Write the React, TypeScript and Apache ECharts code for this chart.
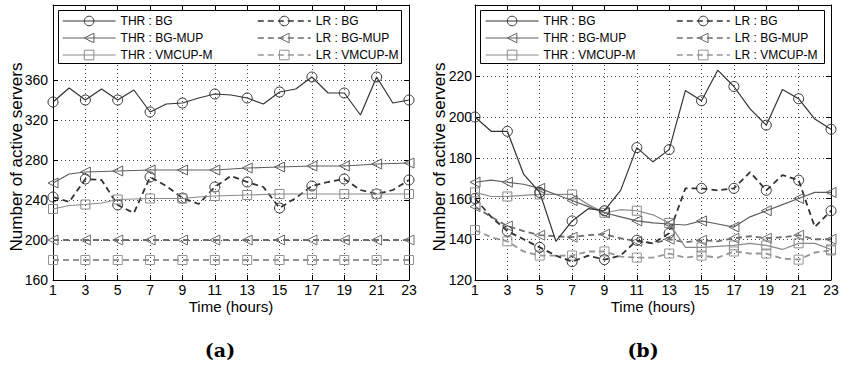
import React, { useEffect, useRef } from "react";
import * as echarts from "echarts";

const hours = [1, 2, 3, 4, 5, 6, 7, 8, 9, 10, 11, 12, 13, 14, 15, 16, 17, 18, 19, 20, 21, 22, 23];

// Panel (a)
const aThrBg = [338, 352, 340, 351, 340, 350, 328, 336, 337, 342, 346, 345, 342, 336, 348, 351, 363, 347, 347, 325, 363, 337, 340];
const aThrBgMup = [257, 266, 268, 268.5, 269, 269.5, 270, 270, 270, 270, 270, 271, 272, 272.5, 273, 273.5, 274, 274, 274, 275, 276, 276.5, 277];
const aThrVm = [231, 234.5, 235.5, 237, 240.5, 241, 241.5, 241.5, 241.5, 243, 244, 244.5, 245, 245.5, 246, 246, 246, 246, 246, 246, 246, 246, 246];
const aLrBg = [243, 238, 261, 260, 235, 227, 263, 254, 242, 236, 253, 264, 258, 253, 232, 242, 254, 258, 261, 250, 246, 250, 260];
const aLrBgMup = [200, 200, 200, 200, 200, 200, 200, 200, 200, 200, 200, 200, 200, 200, 200, 200, 200, 200, 200, 200, 200, 200, 200];
const aLrVm = [180, 180, 180, 180, 180, 180, 180, 180, 180, 180, 180, 180, 180, 180, 180, 180, 180, 180, 180, 180, 180, 180, 180];

// Panel (b)
const bThrBg = [200, 193, 193, 172, 163, 139, 149, 155, 154, 164, 185, 178, 184, 213, 208, 223, 215, 204, 196, 213.5, 209, 199, 194];
const bThrBgMup = [168, 169, 168, 167, 165, 162, 159, 156, 153, 151, 149, 148, 147.5, 147, 149, 147.5, 146, 151, 154, 157, 160, 163, 163];
const bThrVm = [163, 161, 161, 161.5, 162, 162, 162, 157, 153, 154.5, 154, 152, 148, 136, 136, 136.5, 137, 138, 137, 135, 138, 138, 135];
const bLrBg = [160, 151, 144, 140, 136, 132, 129, 132, 130, 132, 139.5, 138, 143, 165, 165, 164, 165, 173, 164, 171.5, 169, 146, 154];
const bLrBgMup = [156, 151, 146.5, 144, 142, 141.5, 141, 142, 142.5, 140.5, 139, 138, 140, 138.5, 139.5, 139, 140.5, 141.5, 140.5, 141, 142, 140, 140];
const bLrVm = [144.5, 141, 139, 134, 132, 132, 132, 134, 134, 131.5, 131, 131, 133, 131, 132, 131, 134, 133, 133, 130.5, 130, 133.5, 134.5];

const seriesNames = ["THR : BG", "THR : BG-MUP", "THR : VMCUP-M", "LR : BG", "LR : BG-MUP", "LR : VMCUP-M"];
const aTicks = [160, 200, 240, 280, 320, 360];
const bTicks = [120, 140, 160, 180, 200, 220];
const xTicks = [1, 3, 5, 7, 9, 11, 13, 15, 17, 19, 21, 23];

const SANS = "Liberation Sans, Arial, sans-serif";

const styles = [
  { color: "#333333", dashed: false, symbol: "circle", rotate: 0, size: 10, width: 1.2 },
  { color: "#5e5e5e", dashed: false, symbol: "triangle", rotate: 90, size: 10, width: 1.2 },
  { color: "#8a8a8a", dashed: false, symbol: "rect", rotate: 0, size: 9, width: 1.2 },
  { color: "#333333", dashed: true, symbol: "circle", rotate: 0, size: 10, width: 1.8 },
  { color: "#6e6e6e", dashed: true, symbol: "triangle", rotate: 90, size: 10, width: 1.8 },
  { color: "#959595", dashed: true, symbol: "rect", rotate: 0, size: 9, width: 1.8 },
];

function makeSeries(idx: number, values: number[], axisIndex: number) {
  const s = styles[idx];
  return {
    name: seriesNames[idx],
    type: "line",
    xAxisIndex: axisIndex,
    yAxisIndex: axisIndex,
    symbol: s.symbol,
    symbolSize: s.size,
    symbolRotate: s.rotate,
    showSymbol: true,
    z: 10 - idx,
    lineStyle: { color: s.color, width: s.width, type: s.dashed ? [6, 4] : "solid" },
    itemStyle: { color: "rgba(0,0,0,0)", borderColor: s.color, borderWidth: 1 },
    emphasis: { disabled: true },
    data: hours.map((h, i) =>
      i % 2 === 0 ? { value: [h, values[i]] } : { value: [h, values[i]], symbol: "none" }
    ),
  };
}

function axesFor(gridIndex: number, min: number, max: number, interval: number, ticks: number[], labelMargin: number) {
  const lineStyle = { color: "#000", width: 1 };
  const xs = [
    {
      gridIndex, type: "value", position: "bottom", min: 1, max: 23, interval: 2,
      axisLine: { show: true, lineStyle },
      axisTick: { show: true, inside: true, length: 5, lineStyle },
      axisLabel: { color: "#000", fontSize: 14, fontFamily: SANS, margin: 3, customValues: xTicks },
      splitLine: { show: true, lineStyle: { color: "#444", width: 1, type: [1, 3] } },
    },
    {
      gridIndex, type: "value", position: "top", min: 1, max: 23, interval: 2,
      axisLine: { show: true, lineStyle },
      axisTick: { show: true, inside: true, length: 5, lineStyle },
      axisLabel: { show: false },
      splitLine: { show: false },
    },
  ];
  const ys = [
    {
      gridIndex, type: "value", position: "left", min, max, interval,
      axisLine: { show: true, lineStyle },
      axisTick: { show: true, inside: true, length: 5, lineStyle, customValues: ticks },
      axisLabel: { color: "#000", fontSize: 14, fontFamily: SANS, margin: labelMargin, customValues: ticks },
      splitLine: { show: true, lineStyle: { color: "#444", width: 1, type: [1, 3] } },
    },
    {
      gridIndex, type: "value", position: "right", min, max, interval,
      axisLine: { show: true, lineStyle },
      axisTick: { show: true, inside: true, length: 5, lineStyle, customValues: ticks },
      axisLabel: { show: false, customValues: ticks },
      splitLine: { show: false },
    },
  ];
  return { xs, ys };
}

function legendsFor(leftThr: number, leftLr: number) {
  const common = {
    orient: "vertical",
    top: 14,
    padding: 0,
    itemWidth: 53,
    itemHeight: 12,
    itemGap: 3,
    z: 20,
    selectedMode: false,
    itemStyle: { borderWidth: 1 },
    lineStyle: { width: 1.2 },
    textStyle: { color: "#000", fontSize: 12, fontFamily: SANS, lineHeight: 14 },
  };
  return [
    { ...common, left: leftThr, data: seriesNames.slice(0, 3) },
    { ...common, left: leftLr, data: seriesNames.slice(3, 6), lineStyle: { width: 1.6 } },
  ];
}

export default function App() {
  const ref = useRef<HTMLDivElement>(null);
  useEffect(() => {
    if (!ref.current) return;
    const chart = echarts.init(ref.current, undefined, { renderer: "svg" });
    const a = axesFor(0, 160, 435, 40, aTicks, 5);
    const b = axesFor(1, 120, 255, 20, bTicks, 3);
    const xAxis = [...a.xs, ...b.xs];
    const yAxis = [...a.ys, ...b.ys];
    const titleStyle = { fill: "#000", fontSize: 15, fontFamily: SANS, align: "center", verticalAlign: "middle" };
    const option = {
      animation: false,
      backgroundColor: "#fff",
      grid: [
        { left: 53, top: 5, width: 356, height: 275 },
        { left: 475, top: 5, width: 356, height: 275 },
      ],
      xAxis,
      yAxis,
      legend: [...legendsFor(62, 257), ...legendsFor(485, 676)],
      graphic: [
        { type: "rect", z: 15, shape: { x: 58.5, y: 10.5, width: 343, height: 53 }, style: { fill: "#fff", stroke: "#000", lineWidth: 1 } },
        { type: "rect", z: 15, shape: { x: 480.5, y: 10.5, width: 344, height: 53 }, style: { fill: "#fff", stroke: "#000", lineWidth: 1 } },
        { type: "text", x: 16, y: 157, rotation: Math.PI / 2, style: { ...titleStyle, text: "Number of active servers", fontSize: 17 } },
        { type: "text", x: 439, y: 157, rotation: Math.PI / 2, style: { ...titleStyle, text: "Number of active servers", fontSize: 17 } },
        { type: "text", x: 231, y: 306, style: { ...titleStyle, text: "Time (hours)" } },
        { type: "text", x: 653, y: 306, style: { ...titleStyle, text: "Time (hours)" } },
        { type: "text", x: 220, y: 350, style: { text: "(a)", fill: "#000", fontSize: 19, fontWeight: "bold", fontFamily: "DejaVu Serif, serif", align: "center", verticalAlign: "middle" } },
        { type: "text", x: 643, y: 350, style: { text: "(b)", fill: "#000", fontSize: 19, fontWeight: "bold", fontFamily: "DejaVu Serif, serif", align: "center", verticalAlign: "middle" } },
      ],
      series: [
        makeSeries(0, aThrBg, 0),
        makeSeries(1, aThrBgMup, 0),
        makeSeries(2, aThrVm, 0),
        makeSeries(3, aLrBg, 0),
        makeSeries(4, aLrBgMup, 0),
        makeSeries(5, aLrVm, 0),
        makeSeries(0, bThrBg, 2),
        makeSeries(1, bThrBgMup, 2),
        makeSeries(2, bThrVm, 2),
        makeSeries(3, bLrBg, 2),
        makeSeries(4, bLrBgMup, 2),
        makeSeries(5, bLrVm, 2),
      ],
    };
    chart.setOption(option as any);
    return () => chart.dispose();
  }, []);
  return <div ref={ref} style={{ position: "absolute", left: 0, top: 0, width: 849, height: 365 }} />;
}
